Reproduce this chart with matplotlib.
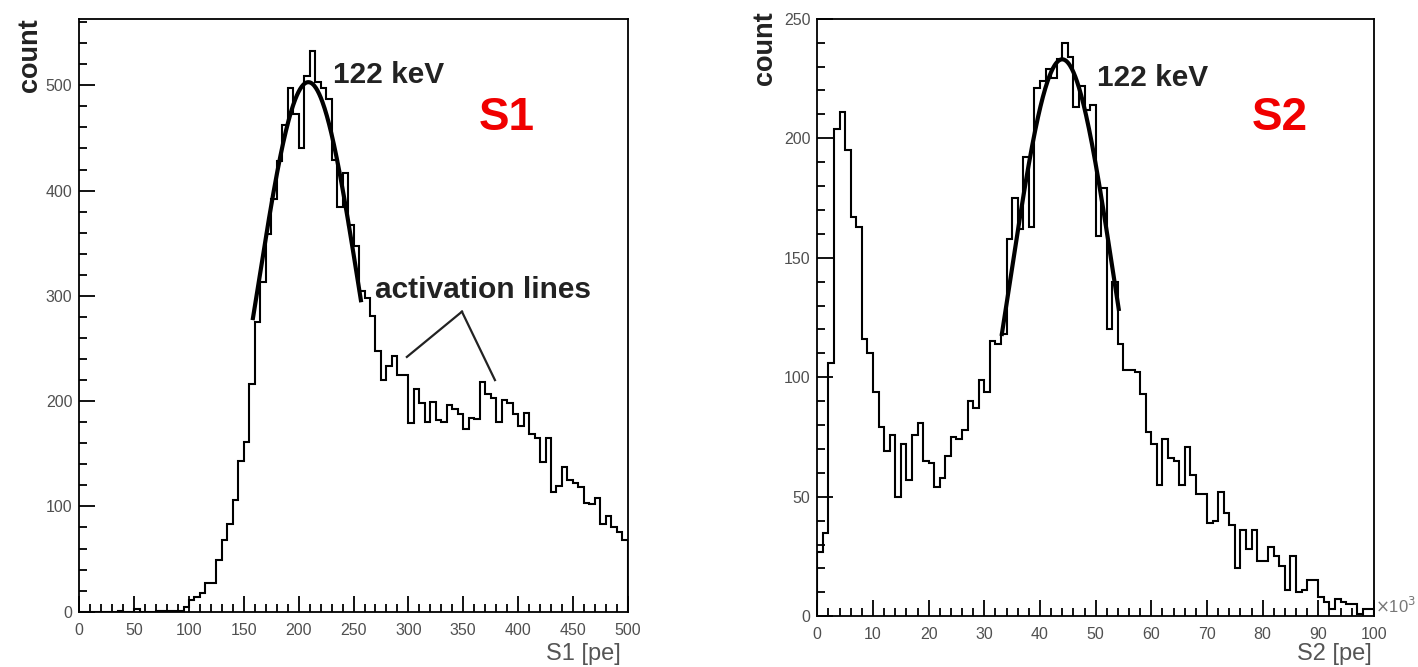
import numpy as np
import matplotlib
matplotlib.use("Agg")
import matplotlib.pyplot as plt
from matplotlib.ticker import MultipleLocator

plt.rcParams['font.family'] = ['Liberation Sans', 'DejaVu Sans']

# S1 spectrum: 100 bins of 5 pe, 0..500 pe
s1_lo, s1_hi = 0, 500
s1_counts = [
    0, 0, 0, 0, 0, 0, 0, 1, 0, 0,
    3, 0, 0, 0, 1, 1, 1, 1, 1, 4,
    11, 14, 18, 27, 27, 49, 68, 83, 106, 143,
    161, 216, 275, 313, 359, 392, 428, 462, 497, 473,
    440, 509, 533, 503, 497, 487, 429, 384, 417, 367,
    347, 305, 298, 281, 248, 220, 233, 243, 225, 225,
    179, 212, 198, 180, 199, 182, 180, 196, 193, 188,
    174, 184, 183, 218, 207, 203, 180, 201, 198, 188,
    176, 189, 169, 165, 142, 165, 114, 119, 137, 125,
    122, 118, 103, 102, 108, 83, 91, 80, 76, 68,
]

# S2 spectrum: 100 bins of 1 (x10^3 pe), 0..100
s2_lo, s2_hi = 0, 100
s2_counts = [
    27, 35, 106, 204, 211, 195, 167, 163, 116, 110,
    94, 79, 69, 76, 50, 72, 57, 76, 81, 65,
    64, 54, 58, 67, 75, 74, 78, 90, 87, 99,
    94, 115, 114, 118, 158, 175, 162, 192, 163, 221,
    224, 229, 225, 233, 240, 234, 213, 222, 212, 214,
    159, 179, 120, 140, 114, 103, 103, 102, 93, 77,
    72, 55, 74, 66, 65, 55, 71, 59, 51, 51,
    39, 40, 52, 43, 38, 20, 36, 28, 36, 23,
    23, 29, 25, 21, 11, 25, 10, 11, 15, 15,
    8, 6, 3, 7, 6, 5, 5, 1, 3, 3,
]

# gaussian fits of the 122 keV line: amplitude, mean, sigma, fit range
s1_fit = dict(amp=503, mean=208.8, sigma=46.5, start=158, stop=257)
s2_fit = dict(amp=233, mean=44.0, sigma=9.3, start=33.1, stop=54.2)

# "activation lines" pointer: two tips and the apex (S1 data coords)
act_tips = [(298.6, 242), (378.9, 220)]
act_apex = (348.8, 285)

TICK_COLOR = '#505050'


def gauss_curve(fit):
    x = np.linspace(fit['start'], fit['stop'], 200)
    y = fit['amp'] * np.exp(-0.5 * ((x - fit['mean']) / fit['sigma']) ** 2)
    return x, y


def style_axis(ax, xmaj, xmin, ymaj, ymin):
    ax.xaxis.set_major_locator(MultipleLocator(xmaj))
    ax.xaxis.set_minor_locator(MultipleLocator(xmin))
    ax.yaxis.set_major_locator(MultipleLocator(ymaj))
    ax.yaxis.set_minor_locator(MultipleLocator(ymin))
    ax.tick_params(which='both', direction='in', top=False, right=False,
                   width=1.3, labelsize=11.5, labelcolor=TICK_COLOR)
    ax.tick_params(which='major', length=11.5)
    ax.tick_params(which='minor', length=5.8)
    ax.tick_params(axis='x', pad=8)
    ax.tick_params(axis='y', pad=5)
    for s in ax.spines.values():
        s.set_linewidth(1.3)


fig = plt.figure(figsize=(14.18, 6.67), dpi=100)

# ---- S1 ----
ax1 = fig.add_axes([79.3 / 1418, 55.3 / 667, 548.5 / 1418, 592.7 / 667])
edges1 = np.linspace(s1_lo, s1_hi, len(s1_counts) + 1)
ax1.stairs(s1_counts, edges1, color='black', lw=1.5)
fx, fy = gauss_curve(s1_fit)
ax1.plot(fx, fy, color='black', lw=3.0, solid_capstyle='butt')
ax1.set_xlim(s1_lo, s1_hi)
ax1.set_ylim(0, 563)
style_axis(ax1, 50, 10, 100, 20)

ax1.text(231.3, 510, '122 keV', fontsize=21.5, fontweight='bold',
         color='#222222', ha='left', va='center')
ax1.text(389.8, 469, 'S1', fontsize=33, fontweight='bold', color='#f00000',
         ha='center', va='center')
ax1.text(269.5, 306, 'activation lines', fontsize=21.5, fontweight='bold',
         color='#222222', ha='left', va='center')
for tip in act_tips:
    ax1.plot([tip[0], act_apex[0]], [tip[1], act_apex[1]],
             color='#222222', lw=1.6)

# ---- S2 ----
ax2 = fig.add_axes([817.3 / 1418, 50.8 / 667, 556.7 / 1418, 597.5 / 667])
edges2 = np.linspace(s2_lo, s2_hi, len(s2_counts) + 1)
ax2.stairs(s2_counts, edges2, color='black', lw=1.5)
fx, fy = gauss_curve(s2_fit)
ax2.plot(fx, fy, color='black', lw=3.0, solid_capstyle='butt')
ax2.set_xlim(s2_lo, s2_hi)
ax2.set_ylim(0, 250)
style_axis(ax2, 10, 2, 50, 10)

ax2.text(50.2, 225, '122 keV', fontsize=21.5, fontweight='bold',
         color='#222222', ha='left', va='center')
ax2.text(83.1, 208.5, 'S2', fontsize=33, fontweight='bold', color='#f00000',
         ha='center', va='center')

# axis titles, ROOT style (at the ends of the axes)
fig.text(30 / 1418, 1 - 55 / 667, 'count', rotation=90, fontsize=19.5,
         fontweight='bold', color='#222222', ha='center', va='center')
fig.text(765 / 1418, 1 - 48 / 667, 'count', rotation=90, fontsize=19.5,
         fontweight='bold', color='#222222', ha='center', va='center')
fig.text(621 / 1418, 2 / 667, 'S1 [pe]', fontsize=17, color='#555555',
         ha='right', va='bottom')
fig.text(1372 / 1418, 2 / 667, 'S2 [pe]', fontsize=17, color='#555555',
         ha='right', va='bottom')
fig.text(1375 / 1418, 1 - 606 / 667, r'$\times$10$^{3}$', fontsize=12,
         color='#777777', ha='left', va='center')

fig.savefig('out.png', dpi=100)
